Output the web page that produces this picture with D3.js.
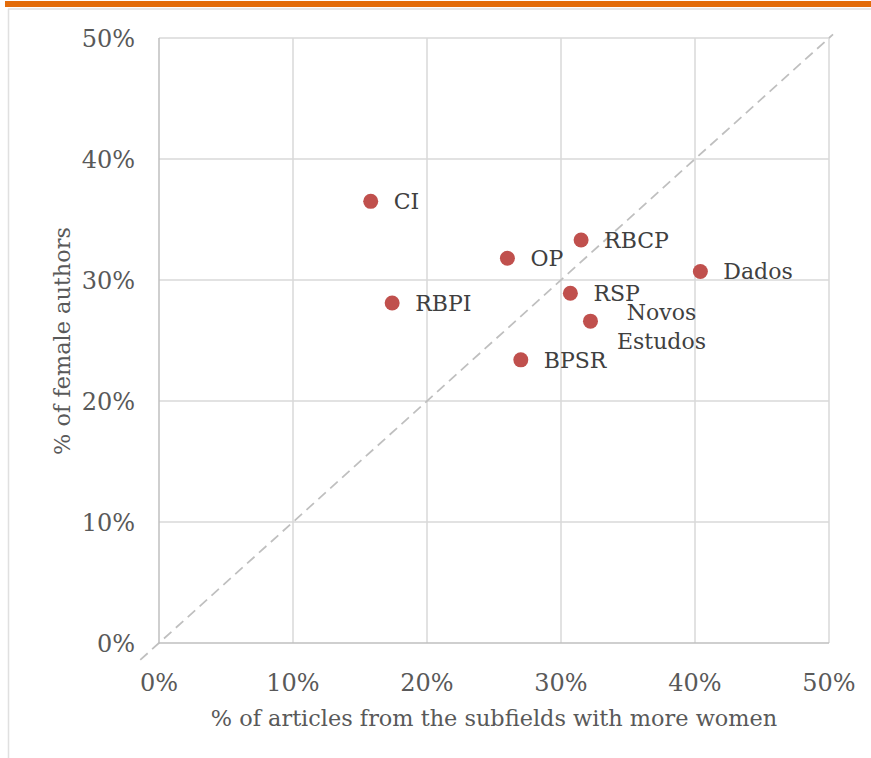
<!DOCTYPE html>
<html><head><meta charset="utf-8">
<script src="https://cdn.jsdelivr.net/npm/d3@7"></script>
<style>body{margin:0;background:#fff;}svg{display:block;}</style>
</head><body>
<svg id="c" width="871" height="758"></svg>
<script>
const journals = ["CI","OP","RBCP","Dados","RSP","RBPI","Novos\nEstudos","BPSR"];
const pctArticlesMoreWomen = [15.8, 26.0, 31.5, 40.4, 30.7, 17.4, 32.2, 27.0];
const pctFemaleAuthors = [36.5, 31.8, 33.3, 30.7, 28.9, 28.1, 26.6, 23.4];
const xTicks = [0,10,20,30,40,50];
const yTicks = [0,10,20,30,40,50];
const diagonal = [-1.4, 50.3];

const svg = d3.select("#c");
const font = "'DejaVu Serif', serif";
const x = d3.scaleLinear().domain([0,50]).range([159,829]);
const y = d3.scaleLinear().domain([0,50]).range([643,38]);

// frame
svg.append("rect").attr("x",5).attr("y",1).attr("width",866).attr("height",6).attr("fill","#e36c0a");
svg.append("line").attr("x1",8).attr("x2",871).attr("y1",9).attr("y2",9).attr("stroke","#e0e0e0").attr("stroke-width",1.5);
svg.append("line").attr("x1",8.5).attr("x2",8.5).attr("y1",9).attr("y2",758).attr("stroke","#e0e0e0").attr("stroke-width",1.5);

// grid
svg.append("g").selectAll("line").data(xTicks.slice(1)).join("line")
  .attr("x1",d=>x(d)).attr("x2",d=>x(d)).attr("y1",y(50)).attr("y2",y(0))
  .attr("stroke","#d9d9d9").attr("stroke-width",1.5);
svg.append("g").selectAll("line").data(yTicks.slice(1)).join("line")
  .attr("x1",x(0)).attr("x2",x(50)).attr("y1",d=>y(d)).attr("y2",d=>y(d))
  .attr("stroke","#d9d9d9").attr("stroke-width",1.5);
// axes lines
svg.append("line").attr("x1",x(0)).attr("x2",x(50)).attr("y1",y(0)).attr("y2",y(0)).attr("stroke","#bfbfbf").attr("stroke-width",1.5);
svg.append("line").attr("x1",x(0)).attr("x2",x(0)).attr("y1",y(0)).attr("y2",y(50)).attr("stroke","#bfbfbf").attr("stroke-width",1.5);

// tick labels
svg.append("g").selectAll("text").data(yTicks).join("text")
  .attr("x",135).attr("y",d=>y(d)).attr("dy","0.36em").attr("text-anchor","end")
  .attr("font-family",font).attr("font-size",24).attr("fill","#595959").text(d=>d+"%");
svg.append("g").selectAll("text").data(xTicks).join("text")
  .attr("x",d=>x(d)).attr("y",682).attr("dy","0.36em").attr("text-anchor","middle")
  .attr("font-family",font).attr("font-size",24).attr("fill","#595959").text(d=>d+"%");

// titles
svg.append("text").attr("x",494).attr("y",718).attr("dy","0.35em").attr("text-anchor","middle")
  .attr("font-family",font).attr("font-size",22.4).attr("fill","#595959")
  .text("% of articles from the subfields with more women");
svg.append("text").attr("transform","translate(62,341) rotate(-90)").attr("dy","0.35em").attr("text-anchor","middle")
  .attr("font-family",font).attr("font-size",22.4).attr("fill","#595959")
  .text("% of female authors");

// diagonal
svg.append("line").attr("x1",x(diagonal[0])).attr("y1",y(diagonal[0])).attr("x2",x(diagonal[1])).attr("y2",y(diagonal[1]))
  .attr("stroke","#bfbfbf").attr("stroke-width",1.75).attr("stroke-dasharray","10,6");

// points
const data = journals.map((j,i)=>({j, xv:pctArticlesMoreWomen[i], yv:pctFemaleAuthors[i]}));
svg.append("g").selectAll("circle").data(data).join("circle")
  .attr("cx",d=>x(d.xv)).attr("cy",d=>y(d.yv)).attr("r",7.5).attr("fill","#c0504d");

// labels
const lbl = svg.append("g");
data.forEach(d=>{
  const lines = d.j.split("\n");
  if (lines.length===1) {
    lbl.append("text").attr("x",x(d.xv)+23).attr("y",y(d.yv)).attr("dy","0.36em")
      .attr("font-family",font).attr("font-size",22).attr("fill","#404040").text(d.j);
  } else {
    const t = lbl.append("text").attr("text-anchor","middle")
      .attr("font-family",font).attr("font-size",22).attr("fill","#404040");
    lines.forEach((l,k)=>{
      t.append("tspan").attr("x",x(d.xv)+71).attr("y",y(d.yv)-9+k*29).attr("dy","0.36em").text(l);
    });
  }
});
</script>
</body></html>
